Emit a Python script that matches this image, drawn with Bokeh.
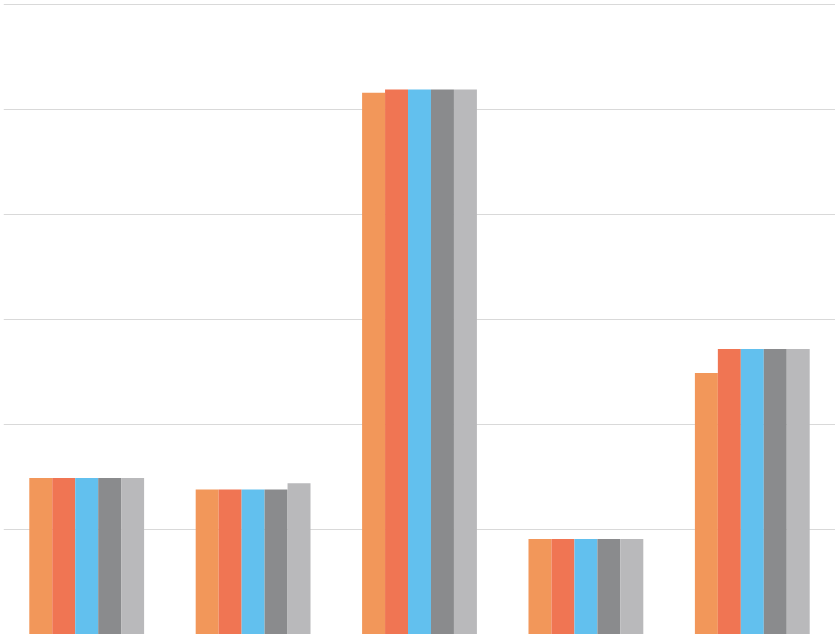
from bokeh.plotting import figure
from bokeh.models import ColumnDataSource, FactorRange, Range1d, FixedTicker
from bokeh.transform import dodge
from bokeh.embed import file_html
from bokeh.resources import INLINE

categories = ["Group 1", "Group 2", "Group 3", "Group 4", "Group 5"]
series_names = ["Series 1", "Series 2", "Series 3", "Series 4", "Series 5"]
series_1 = [1.49, 1.38, 5.16, 0.91, 2.49]
series_2 = [1.49, 1.38, 5.19, 0.91, 2.72]
series_3 = [1.49, 1.38, 5.19, 0.91, 2.72]
series_4 = [1.49, 1.38, 5.19, 0.91, 2.72]
series_5 = [1.49, 1.44, 5.19, 0.91, 2.72]
y_ticks = [0, 1, 2, 3, 4, 5, 6]

colors = ["#F2975A", "#F07553", "#62C0EE", "#8A8B8D", "#B9B9BB"]
all_series = [series_1, series_2, series_3, series_4, series_5]

data = {"cat": categories}
for name, vals in zip(series_names, all_series):
    data[name] = vals
source = ColumnDataSource(data)

p = figure(x_range=FactorRange(*categories), y_range=Range1d(0, 6.0095),
           width=832, height=631, output_backend="svg", toolbar_location=None,
           min_border=0, min_border_left=0, min_border_right=0,
           min_border_top=0, min_border_bottom=0)
p.styles = {"margin-left": "3px", "margin-top": "3px"}

bw = 0.138
offsets = [-2 * bw, -bw, 0, bw, 2 * bw]
for name, off, col in zip(series_names, offsets, colors):
    p.vbar(x=dodge("cat", off, range=p.x_range), top=name, bottom=0, width=bw,
           source=source, fill_color=col, line_color=None)

p.xaxis.visible = False
p.yaxis.visible = False
p.xgrid.grid_line_color = None
p.ygrid.ticker = FixedTicker(ticks=y_ticks)
p.ygrid.grid_line_color = "#D9D9D9"
p.ygrid.grid_line_width = 1
p.outline_line_color = None
p.background_fill_color = "white"
p.border_fill_color = "white"
p.x_range.range_padding = 0

open("out.html", "w").write(file_html(p, INLINE))
